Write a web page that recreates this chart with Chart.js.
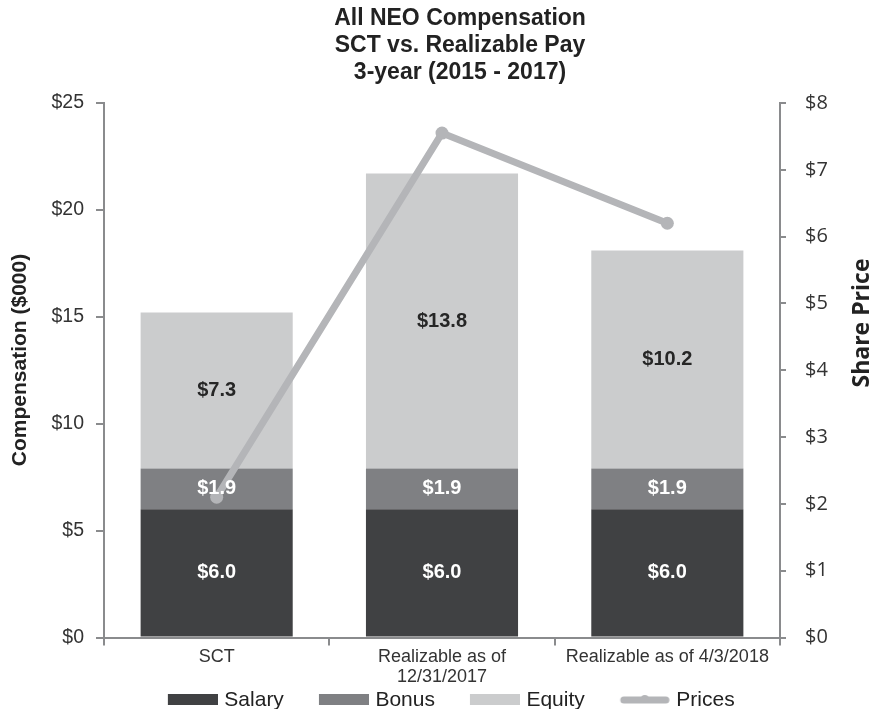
<!DOCTYPE html>
<html>
<head>
<meta charset="utf-8">
<script src="https://cdn.jsdelivr.net/npm/chart.js@4/dist/chart.umd.min.js"></script>
<style>
  html, body { margin: 0; padding: 0; background: #fff; }
  #wrap { width: 876px; height: 711px; }
</style>
</head>
<body>
<div id="wrap"><canvas id="chart" width="876" height="711"></canvas></div>
<script>
// Data
const categories = ['SCT', ['Realizable as of', '12/31/2017'], 'Realizable as of 4/3/2018'];
const seriesNames = ['Salary', 'Bonus', 'Equity', 'Prices'];
const salary = [6.0, 6.0, 6.0];
const bonus = [1.9, 1.9, 1.9];
const equity = [7.3, 13.8, 10.2];
const prices = [2.1, 7.55, 6.2];
const compTicks = [0, 5, 10, 15, 20, 25];
const priceTicks = [0, 1, 2, 3, 4, 5, 6, 7, 8];

const AXIS = '#8a8b8d';
const LINE = '#b4b5b8';
const ARIAL = '"Liberation Sans", Arial, sans-serif';
const CALI = '"Open Sans", "Noto Sans", sans-serif';

// small canvases used as legend swatches (box sits 4px into the canvas)
function swatch(color, isLine) {
    const c = document.createElement('canvas');
    c.width = 54; c.height = 12;
    const g = c.getContext('2d');
    g.fillStyle = color;
    if (isLine) {
        g.beginPath();
        g.lineCap = 'round';
        g.lineWidth = 7;
        g.strokeStyle = color;
        g.moveTo(8, 6); g.lineTo(50, 6);
        g.stroke();
        g.beginPath();
        g.arc(29, 5, 4, 0, Math.PI * 2);
        g.fill();
    } else {
        g.fillRect(4, 0, 50, 11);
    }
    return c;
}

// writes the value inside each bar segment
const segmentLabels = {
    id: 'segmentLabels',
    afterDatasetsDraw(chart) {
        const ctx = chart.ctx;
        ctx.save();
        ctx.font = 'bold 20px ' + ARIAL;
        ctx.textAlign = 'center';
        ctx.textBaseline = 'middle';
        chart.data.datasets.forEach((ds, i) => {
            if (ds.type === 'line') return;
            const meta = chart.getDatasetMeta(i);
            meta.data.forEach((bar, j) => {
                const mid = (bar.y + bar.base) / 2;
                ctx.fillStyle = ds.labelColor;
                ctx.fillText('$' + ds.data[j].toFixed(1), bar.x, mid);
            });
        });
        ctx.restore();
    }
};

// both axis titles, reading bottom to top
const axisTitles = {
    id: 'axisTitles',
    afterDraw(chart) {
        const ctx = chart.ctx;
        const draw = (text, font, x, y) => {
            ctx.save();
            ctx.translate(x, y);
            ctx.rotate(-Math.PI / 2);
            ctx.font = font;
            ctx.fillStyle = '#222';
            ctx.textAlign = 'center';
            ctx.textBaseline = 'middle';
            ctx.fillText(text, 0, 0);
            ctx.restore();
        };
        draw('Compensation ($000)', 'bold 21px ' + ARIAL, 20, 360);
        draw('Share Price', 'bold 23px ' + CALI, 862, 323);
    }
};

// pull the legend row down, closer to the bottom edge
const legendHeight = {
    id: 'legendHeight',
    beforeLayout(chart) {
        const lg = chart.legend;
        if (!lg || lg._fixed) return;
        const fit = lg.fit.bind(lg);
        lg.fit = function () { fit(); this.height -= 11.5; };
        lg._fixed = true;
    }
};

new Chart(document.getElementById('chart'), {
    type: 'bar',
    data: {
        labels: categories,
        datasets: [
            { label: seriesNames[0], data: salary, backgroundColor: '#404143', labelColor: '#ffffff', yAxisID: 'y', order: 1 },
            { label: seriesNames[1], data: bonus, backgroundColor: '#7f8083', labelColor: '#ffffff', yAxisID: 'y', order: 1 },
            { label: seriesNames[2], data: equity, backgroundColor: '#cbcccd', labelColor: '#262626', yAxisID: 'y', order: 1 },
            {
                type: 'line', label: seriesNames[3], data: prices, yAxisID: 'y1', order: 0,
                borderColor: LINE, backgroundColor: LINE, borderWidth: 7,
                pointRadius: 6.5, pointBackgroundColor: LINE, pointBorderWidth: 0,
                tension: 0
            }
        ]
    },
    options: {
        responsive: false,
        animation: false,
        layout: { padding: { left: 44, right: 0, top: 0, bottom: 2 } },
        datasets: {
            bar: { barPercentage: 0.675, categoryPercentage: 1, stack: 'pay' }
        },
        plugins: {
            title: {
                display: true,
                text: ['All NEO Compensation', 'SCT vs. Realizable Pay', '3-year (2015 - 2017)'],
                color: '#222',
                font: { family: ARIAL, size: 23, weight: 'bold', lineHeight: 27 / 23 },
                padding: { top: 5.5, bottom: 16.5 }
            },
            legend: {
                position: 'bottom',
                labels: {
                    color: '#222',
                    font: { family: ARIAL, size: 21 },
                    usePointStyle: true,
                    pointStyleWidth: 46,
                    boxHeight: 12,
                    padding: 0,
                    sort: (a, b) => a.datasetIndex - b.datasetIndex,
                    generateLabels: chart => {
                        const items = Chart.defaults.plugins.legend.labels.generateLabels(chart);
                        items.forEach(it => {
                            const ds = chart.data.datasets[it.datasetIndex];
                            it.pointStyle = swatch(ds.backgroundColor, ds.type === 'line');
                            // trailing spaces give the gap before the next swatch
                            it.text = it.text + (ds.type === 'line' ? '   ' : '      ');
                        });
                        return items;
                    }
                }
            },
            tooltip: { enabled: false }
        },
        scales: {
            x: {
                stacked: true,
                grid: { display: true, drawOnChartArea: false, color: AXIS, lineWidth: 2, tickLength: 8, offset: true },
                border: { color: AXIS, width: 2 },
                ticks: { color: '#333', font: { family: ARIAL, size: 18, lineHeight: 20 / 18 }, maxRotation: 0, autoSkip: false, padding: 2 }
            },
            y: {
                stacked: true,
                position: 'left',
                min: 0, max: 25,
                afterBuildTicks: s => { s.ticks = compTicks.map(v => ({ value: v })); },
                afterFit: s => { s.width = 60; },
                grid: { drawOnChartArea: false, color: AXIS, lineWidth: 2, tickLength: 8 },
                border: { color: AXIS, width: 2 },
                ticks: { color: '#333', font: { family: ARIAL, size: 19.5 }, padding: 12, callback: v => '$' + v }
            },
            y1: {
                position: 'right',
                min: 0, max: 8,
                afterBuildTicks: s => { s.ticks = priceTicks.map(v => ({ value: v })); },
                afterFit: s => { s.width = 96; },
                grid: { drawOnChartArea: false, color: AXIS, lineWidth: 2, tickLength: 6 },
                border: { color: AXIS, width: 2 },
                ticks: { color: '#333', font: { family: CALI, size: 20 }, padding: 19, callback: v => '$' + v }
            }
        }
    },
    plugins: [segmentLabels, axisTitles, legendHeight]
});
</script>
</body>
</html>
